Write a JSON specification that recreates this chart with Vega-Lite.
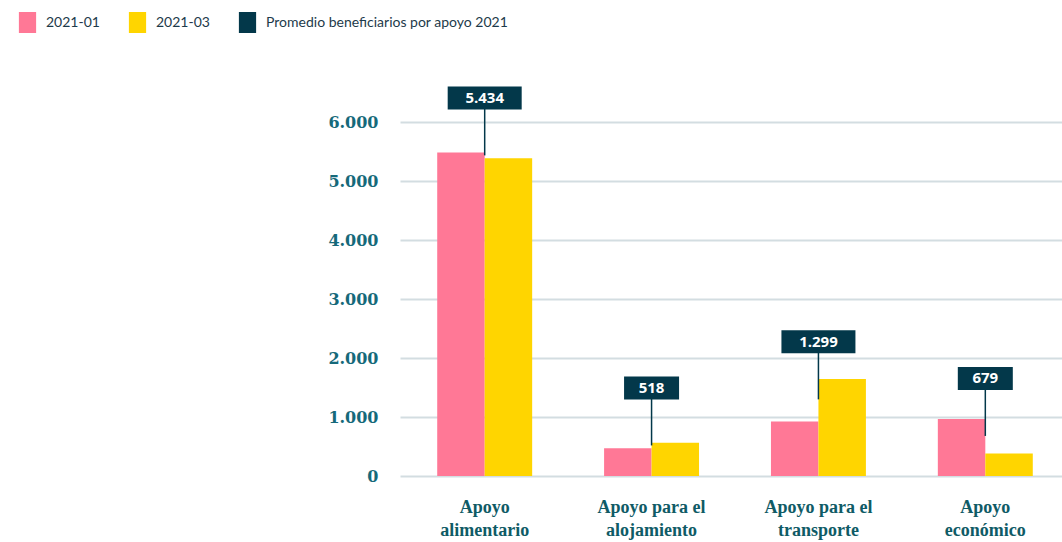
{
  "$schema": "https://vega.github.io/schema/vega-lite/v6.json",
  "width": 670,
  "height": 354,
  "autosize": {"type": "none"},
  "padding": {"left": 400, "top": 122, "right": -8, "bottom": 66},
  "background": "white",
  "datasets": {
    "bars": [
      {"categoria": "Apoyo alimentario", "serie": "2021-01", "valor": 5482},
      {"categoria": "Apoyo alimentario", "serie": "2021-03", "valor": 5386},
      {"categoria": "Apoyo para el alojamiento", "serie": "2021-01", "valor": 470},
      {"categoria": "Apoyo para el alojamiento", "serie": "2021-03", "valor": 563},
      {"categoria": "Apoyo para el transporte", "serie": "2021-01", "valor": 925},
      {"categoria": "Apoyo para el transporte", "serie": "2021-03", "valor": 1645},
      {"categoria": "Apoyo económico", "serie": "2021-01", "valor": 965},
      {"categoria": "Apoyo económico", "serie": "2021-03", "valor": 380}
    ],
    "promedio": [
      {"categoria": "Apoyo alimentario", "promedio": 5434},
      {"categoria": "Apoyo para el alojamiento", "promedio": 518},
      {"categoria": "Apoyo para el transporte", "promedio": 1299},
      {"categoria": "Apoyo económico", "promedio": 679}
    ]
  },
  "layer": [
    {
      "data": {"name": "bars"},
      "mark": {"type": "bar"},
      "encoding": {
        "x": {
          "field": "categoria", "type": "nominal",
          "sort": ["Apoyo alimentario", "Apoyo para el alojamiento", "Apoyo para el transporte", "Apoyo económico"],
          "scale": {"paddingInner": 0.431, "paddingOuter": 0.223},
          "axis": {
            "title": null, "labelAngle": 0, "domain": false, "ticks": false,
            "labelFont": "Liberation Serif", "labelFontWeight": "bold", "labelFontSize": 18,
            "labelColor": "#0f5b66", "labelBaseline": "top", "labelLineHeight": 23, "labelPadding": 22,
            "labelExpr": "[slice(datum.label, 0, lastindexof(datum.label, ' ')), slice(datum.label, lastindexof(datum.label, ' ') + 1)]"
          }
        },
        "xOffset": {"field": "serie", "type": "nominal", "sort": ["2021-01", "2021-03"], "scale": {"paddingInner": 0}},
        "y": {
          "field": "valor", "type": "quantitative",
          "scale": {"domain": [0, 6000], "nice": false},
          "axis": {
            "title": null, "values": [0, 1000, 2000, 3000, 4000, 5000, 6000], "format": ",.0f",
            "domain": false, "ticks": false, "grid": true, "gridColor": "#d3dde1", "gridWidth": 2,
            "labelFont": "DejaVu Serif", "labelFontWeight": "bold", "labelFontSize": 16,
            "labelColor": "#15697a", "labelPadding": 22
          }
        },
        "color": {
          "field": "serie", "type": "nominal",
          "scale": {
            "domain": ["2021-01", "2021-03", "Promedio beneficiarios por apoyo 2021"],
            "range": ["#ff7896", "#ffd500", "#03384a"]
          },
          "legend": {
            "title": null, "orient": "none", "direction": "horizontal",
            "legendX": -383, "legendY": -110,
            "symbolType": "M-0.82,-1H0.82V1H-0.82Z", "symbolSize": 441, "symbolStrokeWidth": 0, "symbolOpacity": 1,
            "labelFont": "Lato", "labelFontSize": 14, "labelColor": "#1d3a4a", "labelLimit": 0,
            "labelOffset": 8, "columnPadding": 27
          }
        }
      }
    },
    {
      "data": {"name": "promedio"},
      "mark": {"type": "rule", "color": "#03384a", "strokeWidth": 1.5, "y2Offset": -50},
      "encoding": {
        "x": {"field": "categoria", "type": "nominal", "sort": ["Apoyo alimentario", "Apoyo para el alojamiento", "Apoyo para el transporte", "Apoyo económico"]},
        "y": {"field": "promedio", "type": "quantitative"},
        "y2": {"field": "promedio"}
      }
    },
    {
      "data": {"name": "promedio"},
      "transform": [{"filter": "datum.promedio >= 1000"}],
      "mark": {"type": "bar", "color": "#03384a", "width": 74, "yOffset": -46, "y2Offset": -69},
      "encoding": {
        "x": {"field": "categoria", "type": "nominal", "sort": ["Apoyo alimentario", "Apoyo para el alojamiento", "Apoyo para el transporte", "Apoyo económico"]},
        "y": {"field": "promedio", "type": "quantitative"},
        "y2": {"field": "promedio"}
      }
    },
    {
      "data": {"name": "promedio"},
      "transform": [{"filter": "datum.promedio < 1000"}],
      "mark": {"type": "bar", "color": "#03384a", "width": 55, "yOffset": -46, "y2Offset": -69},
      "encoding": {
        "x": {"field": "categoria", "type": "nominal", "sort": ["Apoyo alimentario", "Apoyo para el alojamiento", "Apoyo para el transporte", "Apoyo económico"]},
        "y": {"field": "promedio", "type": "quantitative"},
        "y2": {"field": "promedio"}
      }
    },
    {
      "data": {"name": "promedio"},
      "mark": {"type": "text", "color": "white", "font": "Open Sans", "fontWeight": "bold", "fontSize": 15, "baseline": "middle", "yOffset": -57.5},
      "encoding": {
        "x": {"field": "categoria", "type": "nominal", "sort": ["Apoyo alimentario", "Apoyo para el alojamiento", "Apoyo para el transporte", "Apoyo económico"]},
        "y": {"field": "promedio", "type": "quantitative"},
        "text": {"field": "promedio", "type": "quantitative", "format": ",.0f"}
      }
    }
  ],
  "config": {
    "view": {"stroke": null},
    "locale": {
      "number": {"decimal": ",", "thousands": ".", "grouping": [3], "currency": ["$", ""]}
    }
  }
}
